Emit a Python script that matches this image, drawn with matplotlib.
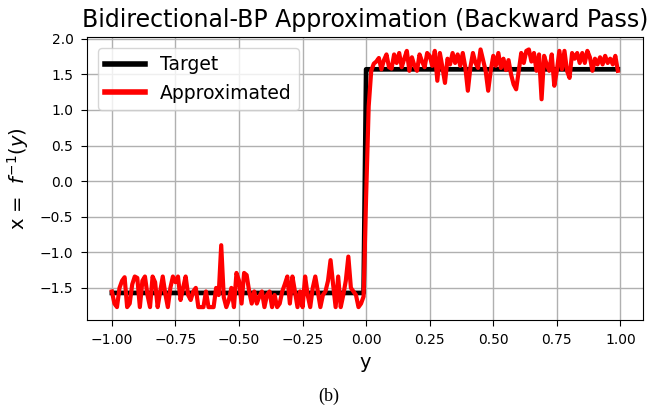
import numpy as np
import matplotlib
matplotlib.use("Agg")
import matplotlib.pyplot as plt

# x grid (y-axis input values)
y_grid = np.round(np.arange(-1.0, 1.0, 0.01), 2)

# Target step function (breakpoints)
target_y = [-1.0, -0.01, 0.0, 0.99]
target_x = [-1.5708, -1.5708, 1.5708, 1.5708]

# Approximated values, y = -1.00 ... -0.01
approx_neg = [
    -1.55, -1.72, -1.77, -1.50, -1.40, -1.35, -1.77, -1.72, -1.45, -1.34,
    -1.36, -1.77, -1.40, -1.34, -1.60, -1.77, -1.34, -1.42, -1.77, -1.55,
    -1.34, -1.58, -1.77, -1.50, -1.34, -1.42, -1.34, -1.67, -1.50, -1.34,
    -1.60, -1.67, -1.55, -1.50, -1.77, -1.77, -1.77, -1.55, -1.77, -1.77,
    -1.77, -1.50, -1.60, -0.90, -1.63, -1.77, -1.67, -1.50, -1.77, -1.29,
    -1.40, -1.72, -1.29, -1.32, -1.55, -1.72, -1.55, -1.72, -1.62, -1.55,
    -1.77, -1.60, -1.55, -1.77, -1.60, -1.77, -1.72, -1.55, -1.45, -1.34,
    -1.72, -1.34, -1.55, -1.77, -1.55, -1.77, -1.34, -1.60, -1.77, -1.50,
    -1.34, -1.55, -1.77, -1.60, -1.55, -1.40, -1.11, -1.45, -1.77, -1.34,
    -1.77, -1.60, -1.40, -1.06, -1.50, -1.55, -1.60, -1.77, -1.72, -1.62,
]
# Approximated values, y = 0.00 ... 0.99
approx_pos = [
    -0.20, 1.05, 1.55, 1.65, 1.68, 1.73, 1.57, 1.70, 1.78, 1.60,
    1.58, 1.78, 1.66, 1.80, 1.60, 1.72, 1.83, 1.55, 1.74, 1.62,
    1.55, 1.78, 1.68, 1.60, 1.80, 1.76, 1.62, 1.83, 1.41, 1.80,
    1.60, 1.38, 1.72, 1.64, 1.80, 1.66, 1.78, 1.62, 1.80, 1.60,
    1.27, 1.60, 1.80, 1.66, 1.59, 1.85, 1.70, 1.55, 1.27, 1.55,
    1.76, 1.62, 1.80, 1.59, 1.72, 1.56, 1.70, 1.50, 1.36, 1.29,
    1.55, 1.80, 1.66, 1.83, 1.85, 1.68, 1.80, 1.55, 1.78, 1.15,
    1.76, 1.64, 1.55, 1.78, 1.34, 1.55, 1.83, 1.57, 1.83, 1.55,
    1.45, 1.80, 1.72, 1.80, 1.66, 1.80, 1.66, 1.83, 1.74, 1.55,
    1.72, 1.64, 1.74, 1.64, 1.76, 1.66, 1.72, 1.64, 1.76, 1.55,
]
approx = approx_neg + approx_pos

yticks = [-1.5, -1.0, -0.5, 0.0, 0.5, 1.0, 1.5, 2.0]
xticks = [-1.0, -0.75, -0.5, -0.25, 0.0, 0.25, 0.5, 0.75, 1.0]

fig = plt.figure(figsize=(6.61, 4.09), dpi=100)
ax = fig.add_axes([0.131, 0.2176, 0.842, 0.693])

ax.plot(target_y, target_x, color="black", lw=3.4, label="Target")
ax.plot(y_grid, approx, color="red", lw=3.0, label="Approximated")

ax.set_xticks(xticks)
ax.set_yticks(yticks)
ax.tick_params(labelsize=10, length=4.5, pad=5)
ax.grid(True, color="#b0b0b0", lw=1.0)
ax.set_xlabel("y", fontsize=14, labelpad=4)
ax.set_ylabel(r"x =  $f^{-1}(y)$", fontsize=14, labelpad=6)
ax.set_title("Bidirectional-BP Approximation (Backward Pass)", fontsize=17, pad=7)
leg = ax.legend(loc="upper left", fontsize=13.5, handlelength=2.1,
                borderaxespad=0.6)
for line in leg.get_lines():
    line.set_linewidth(4.0)

fig.text(0.497, 0.02, "(b)", fontsize=13, family="Liberation Serif", ha="center")

fig.savefig("out.png", dpi=100)
